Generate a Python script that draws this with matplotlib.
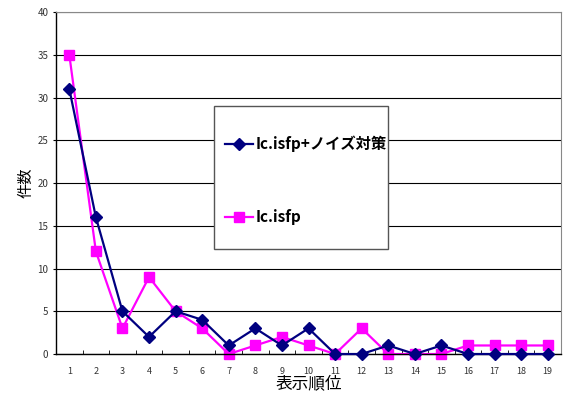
import numpy as np
import matplotlib
matplotlib.use("Agg")
import matplotlib.pyplot as plt
from matplotlib.patches import Rectangle

plt.rcParams['font.family'] = ['Noto Sans CJK JP', 'DejaVu Sans']

# 表示順位ごとの件数
ranks = list(range(1, 20))
noise_counts = [31, 16, 5, 2, 5, 4, 1, 3, 1, 3, 0, 0, 1, 0, 1, 0, 0, 0, 0]
base_counts = [35, 12, 3, 9, 5, 3, 0, 1, 2, 1, 0, 3, 0, 0, 0, 1, 1, 1, 1]
series_names = ['Ic.isfp+ノイズ対策', 'Ic.isfp']

fig = plt.figure(figsize=(5.64, 3.96), dpi=100)
ax = fig.add_axes([0.0993, 0.106, 0.8954, 0.8637])

ax.plot(ranks, noise_counts, '-D', color='#000080', markersize=6, linewidth=1.6,
        label=series_names[0], zorder=3, clip_on=False)
ax.plot(ranks, base_counts, '-s', color='#FF00FF', markersize=6.5, linewidth=1.6,
        label=series_names[1], zorder=2, clip_on=False)

ax.set_xlim(0.5, 19.5)
ax.set_ylim(0, 40)
ax.set_yticks(np.arange(0, 41, 5))
ax.set_xticks(ranks)
ax.set_xticks(np.arange(0.5, 19.6, 1), minor=True)
ax.yaxis.grid(True, color='black', linewidth=0.8)
ax.set_axisbelow(True)

ax.tick_params(axis='x', which='major', length=0, labelsize=6.5, pad=9, colors='#333333')
ax.tick_params(axis='x', which='minor', length=3, direction='in', color='black')
ax.tick_params(axis='y', length=2, direction='out', labelsize=7, color='black',
               labelcolor='#333333')

for side in ['left', 'bottom']:
    ax.spines[side].set_color('black')
    ax.spines[side].set_linewidth(1.0)
for side in ['top', 'right']:
    ax.spines[side].set_color('#888888')
    ax.spines[side].set_linewidth(0.8)

ax.set_xlabel('表示順位', fontsize=12, labelpad=0)
ax.set_ylabel('件数', fontsize=11, labelpad=2)

# 凡例の枠は別に描き、中身は枠の中に置く
box = Rectangle((0.3794, 0.3712), 0.3085, 0.3611, transform=fig.transFigure,
                facecolor='white', edgecolor='#555555', linewidth=1.0,
                zorder=4, clip_on=False)
ax.add_patch(box)

leg = ax.legend(loc='center left', bbox_to_anchor=(0.399, 0.5442),
                bbox_transform=fig.transFigure, frameon=False,
                labelspacing=3.75, borderpad=0, handlelength=1.8,
                handletextpad=0.2, borderaxespad=0,
                prop={'size': 11, 'weight': 'bold'})
leg.set_zorder(5)

fig.savefig('out.png', dpi=100)
